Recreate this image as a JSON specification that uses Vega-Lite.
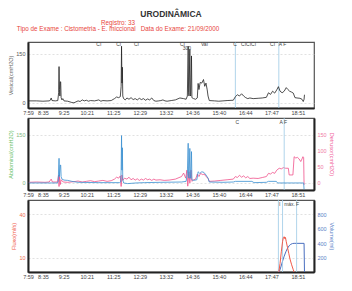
{
"$schema": "https://vega.github.io/schema/vega-lite/v6.json",
"background": "white",
"padding": {"left": 8, "top": 9, "right": 5, "bottom": 4},
"title": {"text": "URODINÂMICA", "fontSize": 8.5, "fontWeight": "bold", "color": "#333", "anchor": "middle", "offset": 1, "font": "Liberation Sans"},
"spacing": 0,
"datasets": {
"ves": [{"t":481,"v":5},{"t":500,"v":5},{"t":515,"v":4},{"t":530,"v":5},{"t":533,"v":7},{"t":535,"v":14},{"t":537,"v":6},{"t":545,"v":5},{"t":551,"v":6},{"t":553,"v":30},{"t":554,"v":111},{"t":555,"v":40},{"t":556,"v":20},{"t":557,"v":64},{"t":558,"v":64},{"t":559,"v":15},{"t":561,"v":8},{"t":563,"v":12},{"t":566,"v":5},{"t":575,"v":4},{"t":585,"v":0},{"t":590,"v":-1},{"t":595,"v":2},{"t":600,"v":5},{"t":605,"v":3},{"t":610,"v":8},{"t":615,"v":5},{"t":620,"v":7},{"t":625,"v":4},{"t":630,"v":6},{"t":640,"v":5},{"t":650,"v":8},{"t":655,"v":4},{"t":660,"v":6},{"t":670,"v":5},{"t":680,"v":6},{"t":688,"v":12},{"t":693,"v":17},{"t":698,"v":15},{"t":702,"v":18},{"t":704,"v":50},{"t":705,"v":174},{"t":706,"v":60},{"t":707,"v":109},{"t":708,"v":20},{"t":710,"v":12},{"t":714,"v":8},{"t":718,"v":14},{"t":723,"v":10},{"t":728,"v":15},{"t":733,"v":9},{"t":738,"v":12},{"t":743,"v":8},{"t":748,"v":13},{"t":753,"v":9},{"t":758,"v":12},{"t":763,"v":7},{"t":768,"v":11},{"t":773,"v":8},{"t":778,"v":14},{"t":783,"v":6},{"t":788,"v":4},{"t":795,"v":5},{"t":800,"v":6},{"t":805,"v":8},{"t":810,"v":5},{"t":815,"v":4},{"t":825,"v":6},{"t":835,"v":8},{"t":846,"v":14},{"t":855,"v":12},{"t":861,"v":10},{"t":864,"v":20},{"t":866,"v":174},{"t":867,"v":30},{"t":868,"v":20},{"t":870,"v":164},{"t":871,"v":25},{"t":872,"v":20},{"t":874,"v":144},{"t":875,"v":15},{"t":879,"v":12},{"t":884,"v":10},{"t":888,"v":14},{"t":890,"v":59},{"t":892,"v":40},{"t":895,"v":62},{"t":899,"v":60},{"t":903,"v":71},{"t":906,"v":50},{"t":909,"v":60},{"t":912,"v":39},{"t":914,"v":20},{"t":917,"v":6},{"t":930,"v":5},{"t":940,"v":4},{"t":950,"v":5},{"t":960,"v":6},{"t":975,"v":7},{"t":980,"v":18},{"t":985,"v":24},{"t":990,"v":20},{"t":995,"v":27},{"t":1000,"v":20},{"t":1005,"v":15},{"t":1010,"v":12},{"t":1015,"v":14},{"t":1023,"v":12},{"t":1035,"v":13},{"t":1045,"v":14},{"t":1055,"v":16},{"t":1060,"v":30},{"t":1065,"v":25},{"t":1070,"v":35},{"t":1075,"v":29},{"t":1080,"v":39},{"t":1084,"v":49},{"t":1088,"v":35},{"t":1093,"v":30},{"t":1098,"v":35},{"t":1103,"v":46},{"t":1107,"v":40},{"t":1111,"v":35},{"t":1116,"v":32},{"t":1120,"v":29},{"t":1124,"v":15},{"t":1129,"v":14},{"t":1136,"v":13},{"t":1141,"v":10},{"t":1144,"v":3},{"t":1146,"v":10},{"t":1147,"v":24}],
"abd": [{"t":481,"v":0},{"t":530,"v":0},{"t":550,"v":0},{"t":552,"v":5},{"t":554,"v":77},{"t":555,"v":20},{"t":557,"v":56},{"t":558,"v":56},{"t":559,"v":20},{"t":561,"v":12},{"t":566,"v":9},{"t":575,"v":8},{"t":585,"v":5},{"t":600,"v":2},{"t":650,"v":1},{"t":700,"v":1},{"t":703,"v":3},{"t":704,"v":40},{"t":705,"v":148},{"t":706,"v":40},{"t":707,"v":110},{"t":708,"v":10},{"t":710,"v":0},{"t":720,"v":-2},{"t":740,"v":0},{"t":760,"v":1},{"t":800,"v":2},{"t":850,"v":3},{"t":861,"v":5},{"t":864,"v":30},{"t":866,"v":124},{"t":867,"v":20},{"t":868,"v":15},{"t":870,"v":108},{"t":871,"v":15},{"t":872,"v":15},{"t":874,"v":98},{"t":875,"v":10},{"t":879,"v":8},{"t":887,"v":10},{"t":890,"v":35},{"t":894,"v":30},{"t":899,"v":35},{"t":904,"v":33},{"t":909,"v":25},{"t":914,"v":15},{"t":917,"v":3},{"t":950,"v":2},{"t":975,"v":3},{"t":980,"v":5},{"t":1020,"v":5},{"t":1025,"v":1},{"t":1055,"v":2},{"t":1060,"v":5},{"t":1079,"v":5},{"t":1082,"v":0},{"t":1120,"v":0},{"t":1145,"v":0},{"t":1146,"v":-20}],
"det": [{"t":481,"v":2},{"t":500,"v":3},{"t":520,"v":2},{"t":530,"v":3},{"t":535,"v":12},{"t":538,"v":3},{"t":550,"v":3},{"t":553,"v":25},{"t":554,"v":-11},{"t":555,"v":20},{"t":557,"v":-5},{"t":559,"v":10},{"t":564,"v":3},{"t":575,"v":2},{"t":590,"v":4},{"t":600,"v":6},{"t":610,"v":3},{"t":620,"v":5},{"t":630,"v":7},{"t":640,"v":4},{"t":650,"v":6},{"t":660,"v":8},{"t":670,"v":5},{"t":680,"v":7},{"t":688,"v":12},{"t":693,"v":18},{"t":698,"v":15},{"t":702,"v":22},{"t":704,"v":-11},{"t":706,"v":25},{"t":708,"v":8},{"t":712,"v":15},{"t":718,"v":12},{"t":723,"v":18},{"t":728,"v":10},{"t":733,"v":14},{"t":738,"v":9},{"t":743,"v":13},{"t":748,"v":8},{"t":753,"v":12},{"t":758,"v":9},{"t":763,"v":14},{"t":768,"v":10},{"t":773,"v":12},{"t":778,"v":8},{"t":783,"v":12},{"t":788,"v":9},{"t":798,"v":10},{"t":808,"v":8},{"t":820,"v":9},{"t":835,"v":12},{"t":850,"v":20},{"t":855,"v":31},{"t":860,"v":15},{"t":863,"v":40},{"t":865,"v":-10},{"t":868,"v":35},{"t":870,"v":0},{"t":873,"v":40},{"t":875,"v":5},{"t":879,"v":10},{"t":884,"v":12},{"t":888,"v":28},{"t":892,"v":20},{"t":896,"v":30},{"t":901,"v":26},{"t":905,"v":28},{"t":909,"v":20},{"t":914,"v":15},{"t":917,"v":5},{"t":930,"v":6},{"t":945,"v":8},{"t":960,"v":10},{"t":975,"v":12},{"t":980,"v":20},{"t":985,"v":17},{"t":990,"v":24},{"t":995,"v":18},{"t":1000,"v":22},{"t":1005,"v":16},{"t":1010,"v":20},{"t":1015,"v":14},{"t":1023,"v":15},{"t":1035,"v":14},{"t":1045,"v":17},{"t":1055,"v":20},{"t":1060,"v":30},{"t":1065,"v":28},{"t":1070,"v":33},{"t":1075,"v":30},{"t":1080,"v":40},{"t":1086,"v":46},{"t":1091,"v":44},{"t":1096,"v":48},{"t":1101,"v":46},{"t":1108,"v":46},{"t":1110,"v":25},{"t":1119,"v":25},{"t":1122,"v":82},{"t":1126,"v":78},{"t":1130,"v":80},{"t":1134,"v":75},{"t":1138,"v":67},{"t":1141,"v":75},{"t":1143,"v":82},{"t":1145,"v":80},{"t":1146,"v":-6}],
"flow": [{"t":1085,"v":0},{"t":1088,"v":6},{"t":1091,"v":14},{"t":1094,"v":21},{"t":1096,"v":24},{"t":1098,"v":24.5},{"t":1100,"v":23},{"t":1101,"v":24},{"t":1103,"v":21},{"t":1106,"v":17},{"t":1109,"v":13},{"t":1112,"v":9},{"t":1116,"v":5},{"t":1120,"v":1.5},{"t":1122,"v":0}],
"vol": [{"t":1086,"v":0},{"t":1090,"v":70},{"t":1094,"v":150},{"t":1098,"v":220},{"t":1102,"v":280},{"t":1106,"v":330},{"t":1110,"v":365},{"t":1114,"v":385},{"t":1118,"v":395},{"t":1122,"v":398},{"t":1146,"v":398},{"t":1147,"v":0}],
"ev1": [{"t":980},{"t":1085}],
"ev2": [{"t":1098}],
"ev3": [{"t":1084},{"t":1094},{"t":1128}],
"lab1": [{"t":650,"s":"CI"},{"t":698,"s":"CI"},{"t":741,"s":"CI"},{"t":852,"s":"CI"},{"t":905,"s":"Val"},{"t":979,"s":"C"},{"t":1012,"s":"CICICI"},{"t":1070,"s":"CI"},{"t":1094,"s":"A F"}],
"lab1b": [{"t":863,"s":"300"}],
"lab2": [{"t":985,"s":"C"},{"t":1096,"s":"A F"}],
"lab3": [{"t":1087,"s":"I"},{"t":1111,"s":"máx."},{"t":1130,"s":"F"}]
},
"vconcat": [
{
"width": 286, "height": 66,
"title": {"text": ["Registro: 33", "Tipo de Exame : Cistometria - E. miccional\u00a0\u00a0\u00a0Data do Exame: 21/09/2000"], "frame": "group", "anchor": "middle", "dx": -53, "fontSize": 6.3, "fontWeight": "normal", "color": "#e8453c", "lineHeight": 6.7, "offset": 9},
"layer": [
{"data": {"name": "ev1"}, "mark": {"type": "rule", "color": "#9cc9e6", "strokeWidth": 0.8}, "encoding": {"x": {"field": "t", "type": "quantitative", "scale": {"domain": [479, 1170], "nice": false, "zero": false}}}},
{"data": {"name": "ves"}, "mark": {"type": "line", "color": "#222", "strokeWidth": 0.8},
 "encoding": {
  "x": {"field": "t", "type": "quantitative", "scale": {"domain": [479, 1170], "nice": false, "zero": false},
        "axis": {"title": null, "tickCount": 30, "labelOverlap": false, "labelFlush": false, "values": [479,515,565,621,685,749,812,876,940,1004,1067,1131], "labelExpr": "floor(datum.value/60) + ':' + (datum.value % 60 < 10 ? '0' : '') + (datum.value % 60)"}},
  "y": {"field": "v", "type": "quantitative", "scale": {"domain": [-17, 187], "nice": false, "zero": false},
        "axis": {"title": "Vesical(cmH2O)", "values": [0, 50, 100, 150], "grid": true, "titleColor": "#666"}}}},
{"data": {"name": "lab1"}, "mark": {"type": "text", "fontSize": 5, "color": "#444"}, "encoding": {"x": {"field": "t", "type": "quantitative"}, "y": {"datum": 182, "type": "quantitative"}, "text": {"field": "s"}}},
{"data": {"name": "lab1b"}, "mark": {"type": "text", "fontSize": 5, "color": "#444"}, "encoding": {"x": {"field": "t", "type": "quantitative"}, "y": {"datum": 167, "type": "quantitative"}, "text": {"field": "s"}}}
]
},
{
"width": 286, "height": 72,
"layer": [
{"data": {"name": "det"}, "mark": {"type": "line", "color": "#f0508a", "strokeWidth": 0.8},
 "encoding": {
  "x": {"field": "t", "type": "quantitative", "scale": {"domain": [479, 1170], "nice": false, "zero": false},
        "axis": {"title": null, "tickCount": 30, "labelOverlap": false, "labelFlush": false, "values": [479,515,565,621,685,749,812,876,940,1004,1067,1131], "labelExpr": "floor(datum.value/60) + ':' + (datum.value % 60 < 10 ? '0' : '') + (datum.value % 60)"}},
  "y": {"field": "v", "type": "quantitative", "scale": {"domain": [-22, 203], "nice": false, "zero": false},
        "axis": {"orient": "right", "title": "Detrusor(cmH2O)", "values": [0, 50, 100, 150], "grid": false, "titleColor": "#f0609a", "labelColor": "#f07aa5"}}}},
{"layer": [
 {"data": {"name": "ev2"}, "mark": {"type": "rule", "color": "#9cc9e6", "strokeWidth": 0.8}, "encoding": {"x": {"field": "t", "type": "quantitative"}}},
 {"data": {"name": "abd"}, "mark": {"type": "line", "color": "#3a8fd0", "strokeWidth": 0.8},
  "encoding": {
   "x": {"field": "t", "type": "quantitative"},
   "y": {"field": "v", "type": "quantitative", "scale": {"domain": [-22, 203], "nice": false, "zero": false},
         "axis": {"orient": "left", "title": "Abdominal(cmH2O)", "values": [0, 50, 100, 150], "grid": true, "titleColor": "#6cbf6c", "labelColor": "#7fb77f"}}}},
 {"data": {"name": "lab2"}, "mark": {"type": "text", "fontSize": 5, "color": "#444"}, "encoding": {"x": {"field": "t", "type": "quantitative"}, "y": {"datum": 190, "type": "quantitative"}, "text": {"field": "s"}}}
]}
],
"resolve": {"scale": {"y": "independent"}}
},
{
"width": 286, "height": 72,
"layer": [
{"data": {"name": "vol"}, "mark": {"type": "line", "color": "#4a6fc0", "strokeWidth": 1},
 "encoding": {
  "x": {"field": "t", "type": "quantitative", "scale": {"domain": [479, 1170], "nice": false, "zero": false},
        "axis": {"title": null, "tickCount": 30, "labelOverlap": false, "labelFlush": false, "values": [479,515,565,621,685,749,812,876,940,1004,1067,1131], "labelExpr": "floor(datum.value/60) + ':' + (datum.value % 60 < 10 ? '0' : '') + (datum.value % 60)"}},
  "y": {"field": "v", "type": "quantitative", "scale": {"domain": [0, 1000], "nice": false, "zero": false},
        "axis": {"orient": "right", "title": "Volume(ml)", "values": [200, 400, 600, 800], "grid": false, "titleColor": "#5b7fc7", "labelColor": "#5b7fc7"}}}},
{"layer": [
 {"data": {"name": "ev3"}, "mark": {"type": "rule", "color": "#9cc9e6", "strokeWidth": 0.8}, "encoding": {"x": {"field": "t", "type": "quantitative"}}},
 {"data": {"name": "flow"}, "mark": {"type": "line", "color": "#f05a4a", "strokeWidth": 1},
  "encoding": {
   "x": {"field": "t", "type": "quantitative"},
   "y": {"field": "v", "type": "quantitative", "scale": {"domain": [0, 50], "nice": false, "zero": false},
         "axis": {"orient": "left", "title": "Fluxo(ml/s)", "values": [10, 20, 30, 40], "grid": true, "titleColor": "#f05a4a", "labelColor": "#f07050"}}}},
 {"data": {"name": "lab3"}, "mark": {"type": "text", "fontSize": 5, "color": "#444"}, "encoding": {"x": {"field": "t", "type": "quantitative"}, "y": {"datum": 47, "type": "quantitative"}, "text": {"field": "s"}}}
]}
],
"resolve": {"scale": {"y": "independent"}}
}
],
"config": {
 "font": "Liberation Sans",
 "view": {"stroke": "#555", "strokeWidth": 1.2},
 "axis": {"labelFontSize": 5.5, "labelColor": "#555", "titleFontSize": 5.5, "titleFontWeight": "normal", "ticks": false, "labelPadding": 3, "titlePadding": 2, "domainColor": "#222", "domainWidth": 2, "gridColor": "#cccccc", "gridDash": [2, 2], "gridWidth": 0.6, "labelOverlap": false, "labelFlush": false},
 "axisX": {"grid": false, "labelPadding": 2, "labelColor": "#444"}
}
}
